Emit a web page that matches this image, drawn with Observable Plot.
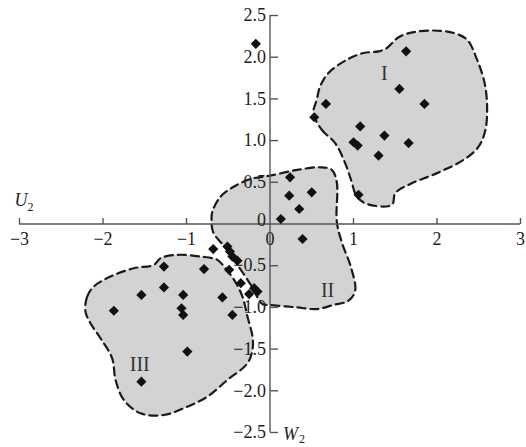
<!DOCTYPE html>
<html><head><meta charset="utf-8">
<script src="https://cdn.jsdelivr.net/npm/d3@7"></script>
<script src="https://cdn.jsdelivr.net/npm/@observablehq/plot@0.6"></script>
<style>body{margin:0;background:#fff}</style>
</head><body><div id="chart"></div>
<script>
// Sample points (U2, W2)
const ptX = [1.63,1.55,1.85,0.67,0.53,1.08,1.37,1.00,1.05,1.66,1.30,1.06,-0.17,
  0.24,0.23,0.50,0.35,0.13,0.39,
  -0.68,-0.51,-0.48,-0.45,-0.39,-0.79,-0.49,-0.35,-0.19,-0.15,-0.25,-0.57,-0.45,
  -1.27,-1.27,-1.54,-1.04,-1.87,-1.06,-1.04,-0.99,-1.54];
const ptY = [2.07,1.62,1.44,1.44,1.28,1.17,1.06,0.98,0.94,0.97,0.82,0.35,2.16,
  0.56,0.34,0.38,0.18,0.06,-0.18,
  -0.30,-0.27,-0.33,-0.39,-0.44,-0.54,-0.55,-0.71,-0.77,-0.81,-0.84,-0.88,-1.09,
  -0.51,-0.76,-0.85,-0.85,-1.04,-1.01,-1.09,-1.53,-1.89];

// Region outlines
const regionI = [[0.52,1.33],[0.62,1.13],[0.78,0.97],[0.90,0.73],[0.97,0.53],[1.04,0.33],[1.16,0.24],[1.46,0.23],[1.50,0.37],[1.68,0.48],[2.00,0.61],[2.32,0.77],[2.50,0.93],[2.58,1.13],[2.60,1.41],[2.57,1.69],[2.48,1.97],[2.36,2.21],[2.20,2.29],[1.96,2.32],[1.72,2.30],[1.54,2.24],[1.40,2.11],[1.30,2.07],[1.12,2.05],[0.92,1.97],[0.70,1.81],[0.60,1.65],[0.56,1.49]];
const regionII = [[-0.69,0.15],[-0.59,0.33],[-0.43,0.45],[-0.23,0.54],[0.0,0.58],[0.33,0.65],[0.60,0.68],[0.74,0.65],[0.80,0.50],[0.80,0.03],[0.86,-0.22],[0.97,-0.52],[1.02,-0.80],[0.94,-0.92],[0.76,-0.97],[0.56,-1.02],[0.32,-1.00],[0.0,-0.97],[-0.09,-0.96],[-0.23,-0.73],[-0.41,-0.46],[-0.53,-0.29],[-0.68,-0.10],[-0.70,0.05]];
const regionIII = [[-2.21,-1.05],[-2.19,-0.87],[-2.11,-0.75],[-1.91,-0.63],[-1.63,-0.53],[-1.39,-0.49],[-1.31,-0.41],[-1.11,-0.37],[-0.83,-0.39],[-0.63,-0.43],[-0.55,-0.51],[-0.43,-0.67],[-0.33,-0.87],[-0.27,-1.11],[-0.21,-1.35],[-0.21,-1.51],[-0.27,-1.67],[-0.51,-1.87],[-0.75,-2.07],[-0.99,-2.19],[-1.27,-2.29],[-1.55,-2.27],[-1.75,-2.11],[-1.85,-1.87],[-1.89,-1.61],[-2.03,-1.37],[-2.15,-1.19]];

const regionNames = ["I","II","III"];
const regionLabelX = [1.37, 0.69, -1.56];
const regionLabelY = [1.80, -0.80, -1.68];

const xTicks = [-3,-2,-1,1,2,3];
const xLabelVals = [-3,-2,-1,0,1,2,3];
const xLabels = ["−3","−2","−1","0","1","2","3"];
const yTicks = [2.5,2.0,1.5,1.0,0.5,-0.5,-1.0,-1.5,-2.0,-2.5];
const yLabels = ["2.5","2.0","1.5","1.0","0.5","−0.5","−1.0","−1.5","−2.0","−2.5"];

const pts = ptX.map((x,i)=>({x, y: ptY[i]}));
const regLabels = regionNames.map((t,i)=>({t, x: regionLabelX[i], y: regionLabelY[i]}));

const axisColor = "#555";
const font = "'Liberation Serif', 'Times New Roman', serif";
const tickUp = {draw(c){ c.moveTo(0,0); c.lineTo(0,-6); }};
const tickRight = {draw(c){ c.moveTo(0,0); c.lineTo(8,0); }};

const regionStyle = {x: d=>d[0], y: d=>d[1], curve: "catmull-rom-closed", fill: "#d3d3d3", stroke: "#1a1a1a", strokeWidth: 2.2, strokeDasharray: "8,5"};

const chart = Plot.plot({
  width: 526, height: 447,
  marginLeft: 19, marginRight: 6, marginTop: 15, marginBottom: 15,
  x: {domain: [-3,3], axis: null},
  y: {domain: [-2.5,2.5], axis: null},
  style: {fontFamily: font, background: "#fff"},
  marks: [
    Plot.line(regionI, regionStyle),
    Plot.line(regionII, regionStyle),
    Plot.line(regionIII, regionStyle),
    Plot.ruleY([0], {stroke: axisColor, strokeWidth: 1.4}),
    Plot.ruleX([0], {stroke: axisColor, strokeWidth: 1.4}),
    Plot.dot(xTicks, {x: d=>d, y: 0, symbol: tickUp, r: 3, fill: "none", stroke: axisColor, strokeWidth: 1.4}),
    Plot.dot(yTicks, {x: 0, y: d=>d, symbol: tickRight, r: 3, fill: "none", stroke: axisColor, strokeWidth: 1.4}),
    Plot.text(xLabelVals, {x: d=>d, y: 0, text: (d,i)=>xLabels[i], dy: 15, fontSize: 18, fill: "#222"}),
    Plot.text(yTicks, {x: 0, y: d=>d, text: (d,i)=>yLabels[i], dx: -4, textAnchor: "end", fontSize: 18, fill: "#222"}),
    Plot.text([0], {x: 0, y: 0, text: ["0"], dx: -4, dy: -4, textAnchor: "end", fontSize: 18, fill: "#222"}),
    Plot.dot(pts, {x: "x", y: "y", symbol: "diamond2", r: 4.6, fill: "#111", stroke: "none"}),
    Plot.text(regLabels, {x: "x", y: "y", text: "t", fontSize: 20, fill: "#333"}),
    Plot.text(["U"], {x: -3, y: 0, text: d=>d, dx: -5, dy: -24, textAnchor: "start", fontSize: 18, fontStyle: "italic", fill: "#222"}),
    Plot.text(["2"], {x: -3, y: 0, text: d=>d, dx: 8, dy: -17, textAnchor: "start", fontSize: 12, fill: "#222"}),
    Plot.text(["W"], {x: 0, y: -2.5, text: d=>d, dx: 13, dy: 2, textAnchor: "start", fontSize: 18, fontStyle: "italic", fill: "#222"}),
    Plot.text(["2"], {x: 0, y: -2.5, text: d=>d, dx: 29, dy: 7, textAnchor: "start", fontSize: 12, fill: "#222"})
  ]
});
document.getElementById("chart").appendChild(chart);
</script>
</body></html>
